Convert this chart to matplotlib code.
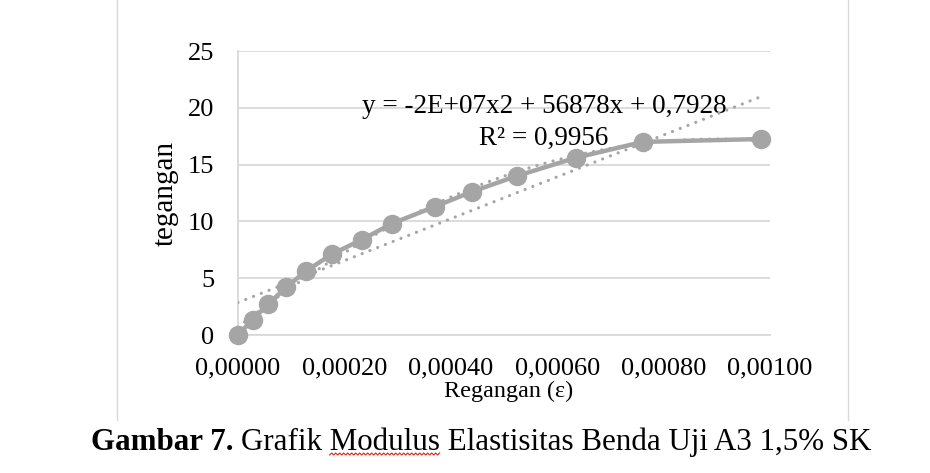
import numpy as np
import matplotlib
matplotlib.use("Agg")
import matplotlib.pyplot as plt
from matplotlib.lines import Line2D

# ── Data ──────────────────────────────────────────────────────────────────────
strain = [0.0, 0.0000273, 0.0000562, 0.0000907, 0.000127, 0.000176, 0.000233,
          0.000289, 0.000370, 0.000439, 0.000524, 0.000635, 0.000761, 0.000983]
stress = [0.0, 1.35, 2.7, 4.2, 5.6, 7.1, 8.4, 9.8, 11.3, 12.6, 14.0, 15.6,
          17.0, 17.25]

x_ticks = [0.0, 0.0002, 0.0004, 0.0006, 0.0008, 0.0010]
x_tick_labels = ["0,00000", "0,00020", "0,00040", "0,00060", "0,00080", "0,00100"]
y_ticks = [0, 5, 10, 15, 20, 25]

eq_text = "y = -2E+07x2 + 56878x + 0,7928"
r2_text = "R² = 0,9956"
caption_bold = "Gambar 7."
caption_rest = "Grafik Modulus Elastisitas Benda Uji A3 1,5% SK"

# ── Style ─────────────────────────────────────────────────────────────────────
C_SERIES = "#A5A5A5"
C_GRID = "#D9D9D9"
C_FRAME = "#D9D9D9"
FONT = "Liberation Serif"
plt.rcParams["font.family"] = [FONT, "DejaVu Serif"]

fig = plt.figure(figsize=(9.3, 4.73), dpi=100)
ax = fig.add_axes([238 / 930, 1 - 335 / 473, 532 / 930, 284 / 473])

# trendlines (computed from the data)
x_arr = np.array(strain)
y_arr = np.array(stress)
xs = np.linspace(0, x_arr.max(), 200)
lin = np.polyfit(x_arr, y_arr, 1)
quad = np.polyfit(x_arr, y_arr, 2)

dot_style = dict(color=C_SERIES, linewidth=2.3, linestyle=(0, (0.01, 2.6)),
                 dash_capstyle="round", zorder=4)
ax.plot(xs, np.polyval(lin, xs), **dot_style)
ax.plot(xs, np.polyval(quad, xs), **dot_style)

ax.plot(strain, stress, color=C_SERIES, linewidth=3.2, marker="o",
        markersize=13, zorder=3, clip_on=False)

ax.text(0.000575, 19.55, eq_text, ha="center", va="baseline", fontsize=19.5)
ax.text(0.000575, 16.75, r2_text, ha="center", va="baseline", fontsize=19.5)

# ── Axes ──────────────────────────────────────────────────────────────────────
ax.set_xlim(0, 0.001)
ax.set_ylim(0, 25)
ax.set_xticks(x_ticks)
ax.set_xticklabels(x_tick_labels)
ax.set_yticks(y_ticks)
ax.tick_params(axis="both", length=0, labelsize=19)
ax.tick_params(axis="x", pad=16)
ax.tick_params(axis="y", pad=17)
ax.grid(axis="y", color=C_GRID, linewidth=1.3)
ax.set_axisbelow(True)
for side in ["top", "right"]:
    ax.spines[side].set_visible(False)
for side in ["left", "bottom"]:
    ax.spines[side].set_color(C_GRID)
    ax.spines[side].set_linewidth(1.3)

ax.text(-0.135, 0.5, "tegangan", rotation=90, ha="center", va="center",
        fontsize=21, transform=ax.transAxes)
ax.text(0.509, -0.2, "Regangan (ε)", ha="center", va="center",
        fontsize=17.4, transform=ax.transAxes)

# chart frame edges
for xf in [117 / 930, 848 / 930]:
    fig.add_artist(Line2D([xf, xf], [1.0, 1 - 420 / 473], color=C_FRAME,
                          linewidth=1.0, transform=fig.transFigure))

# ── Caption ───────────────────────────────────────────────────────────────────
cap_y = 1 - 450 / 473
cap_size = 22.3
renderer = fig.canvas.get_renderer()


def text_width(s, **kw):
    t = fig.text(0, 0, s, fontsize=cap_size, **kw)
    w = t.get_window_extent(renderer).width
    t.remove()
    return w


space_w = text_width("a b") - text_width("ab")
bold_w = text_width(caption_bold, fontweight="bold")
rest_w = text_width(caption_rest)
total_w = bold_w + space_w + rest_w
x0 = 481 - total_w / 2

fig.text(x0 / 930, cap_y, caption_bold, fontsize=cap_size, fontweight="bold",
         va="baseline")
x1 = x0 + bold_w + space_w
fig.text(x1 / 930, cap_y, caption_rest, fontsize=cap_size, va="baseline")

# spell-check squiggle under "Modulus"
pre_w = text_width("Grafik Modulus") - text_width("Modulus")
mod_w = text_width("Modulus")
sq_x = np.arange(x1 + pre_w, x1 + pre_w + mod_w, 2.0)
sq_y = 473 - 454 + np.where(np.arange(len(sq_x)) % 2 == 0, -1.0, 1.0)
fig.add_artist(Line2D(sq_x / 930, sq_y / 473, color="#E0201B", linewidth=0.8,
                      transform=fig.transFigure))

fig.savefig("out.png", dpi=100)
